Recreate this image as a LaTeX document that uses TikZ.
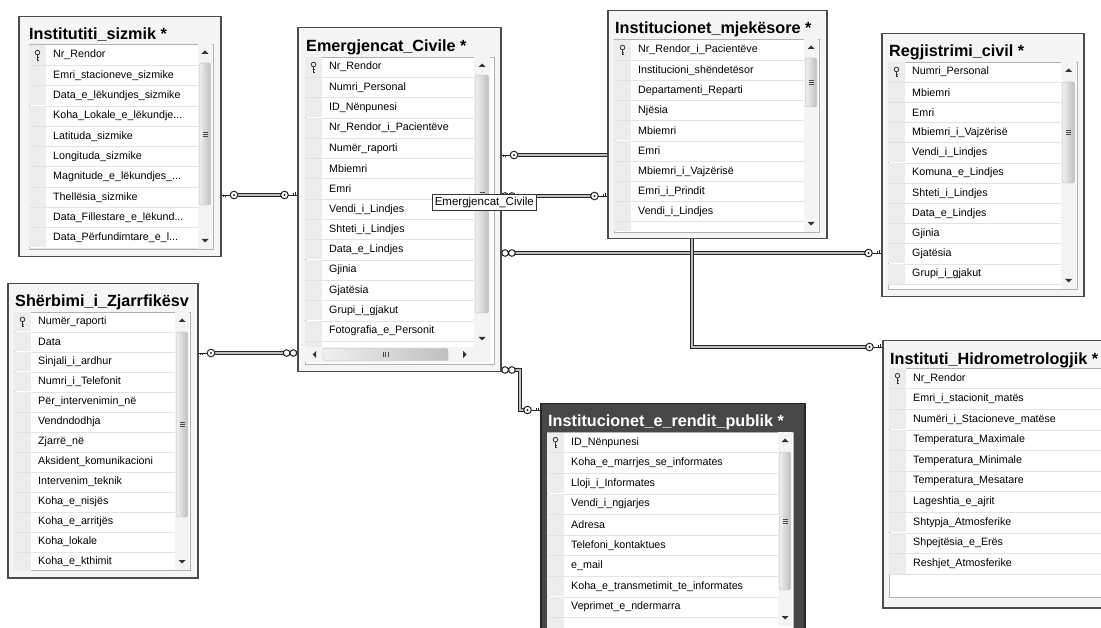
\documentclass[tikz,border=0pt]{standalone}
\usepackage{fontspec}
\setmainfont{Liberation Sans}

\newcommand{\cutoff}{...}

\tikzset{
  tframe/.style={draw=gray!60!black, line width=1.5pt, fill=gray!8, inner sep=0pt, anchor=north west},
  tframedark/.style={tframe, draw=black!85, fill=black!72},
  ttitle/.style={font=\bfseries\fontsize{16.2}{18}\selectfont, anchor=base west, inner sep=0pt, text=black},
  gridbox/.style={draw=gray!60, fill=white, line width=0.7pt},
  keycol/.style={fill=gray!14},
  rowline/.style={draw=gray!22, line width=0.6pt},
  field/.style={font=\fontsize{10.7}{12}\selectfont, anchor=west, inner sep=0pt, text=black},
  pkey/.style={draw=black!80, line width=0.8pt},
  track/.style={fill=gray!9},
  thumb/.style={draw=gray!55, rounded corners=2pt, left color=gray!12, right color=gray!50},
  arrowtip/.style={fill=black!80},
  rel/.style={draw=black!85, line width=0.9pt, double=gray!50, double distance=1.6pt},
  keyend/.pic={
    \draw[black!85, line width=0.9pt] (0,0) -- (9,0) (1.5,0) -- (1.5,2.5) (4,0) -- (4,2);
    \draw[black!85, line width=1pt, fill=white] (12.5,0) circle (3.8);
    \fill[black!85] (12.5,0) circle (1.1);
  },
  manyend/.pic={
    \draw[black!85, line width=1pt, fill=white] (3.6,0) circle (3.3) (10.4,0) circle (3.3);
  },
  tooltip/.style={draw=black!80, fill=white, line width=0.6pt, font=\fontsize{11.5}{13}\selectfont, inner sep=2.5pt, anchor=north west},
}

% rows of a table: name, grid left, first row top, scrollbar left, row height, fields
\newcommand{\dbrows}[6]{%
  \foreach \fname [count=\i] in {#6} {
    \pgfmathsetmacro{\rtop}{#3+(\i-1)*#5}
    \pgfmathsetmacro{\rbot}{\rtop+#5}
    \fill[keycol] (#2,\rtop+0.5) rectangle (#2+17,\rbot-0.5);
    \draw[rowline] (#2,\rbot) -- (#4,\rbot);
    \node[field] (#1-\i) at (#2+24,\rtop+#5/2) {\fname};
  }
  \pgfmathsetmacro{\kx}{#2+8.5}
  \pgfmathsetmacro{\ky}{#3+#5/2}
  \draw[pkey] (\kx,\ky-2.6) circle (2.3);
  \draw[pkey] (\kx,\ky-0.3) -- (\kx,\ky+4.8) -- (\kx+1.8,\ky+4.8) (\kx,\ky+2.6) -- (\kx+1.6,\ky+2.6);
}

% vertical scrollbar: left, top, right, bottom, thumb top, thumb bottom
\newcommand{\vscroll}[6]{%
  \fill[track] (#1,#2) rectangle (#3,#4);
  \shade[thumb] (#1+1.5,#5) rectangle (#3-1.5,#6);
  \pgfmathsetmacro{\mx}{(#1+#3)/2}
  \pgfmathsetmacro{\gy}{(#5+#6)/2}
  \fill[arrowtip] (\mx-3.5,#2+10) -- (\mx+3.5,#2+10) -- (\mx,#2+6.5) -- cycle;
  \fill[arrowtip] (\mx-3.5,#4-10) -- (\mx+3.5,#4-10) -- (\mx,#4-6.5) -- cycle;
  \draw[gray!60!black, line width=0.5pt] (\mx-2.5,\gy-2) -- (\mx+2.5,\gy-2) (\mx-2.5,\gy) -- (\mx+2.5,\gy) (\mx-2.5,\gy+2) -- (\mx+2.5,\gy+2);
}

\begin{document}
\catcode`\_=12
\begin{tikzpicture}[x=1pt, y=-1pt]
\useasboundingbox (0,0) rectangle (1101,628);
\fill[white] (0,0) rectangle (1101,628);
\clip (0,0) rectangle (1101,628);

% Institutiti_sizmik
\node[tframe, minimum width=202pt, minimum height=240pt] (sizmik) at (18,16) {};
\node[ttitle] (sizmik-title) at (29,39.5) {Institutiti_sizmik *};
\draw[gridbox] (29,44) rectangle (213,249);
\dbrows{sizmik}{29}{45}{198}{20.3}{Nr_Rendor, Emri_stacioneve_sizmike, Data_e_lëkundjes_sizmike, Koha_Lokale_e_lëkundje\cutoff, Latituda_sizmike, Longituda_sizmike, Magnitude_e_lëkundjes_\cutoff, Thellësia_sizmike, Data_Fillestare_e_lëkund\cutoff, Data_Përfundimtare_e_l\cutoff}
\vscroll{198}{44}{212}{249}{63}{205}

% Emergjencat_Civile
\node[tframe, minimum width=203pt, minimum height=344pt] (emerg) at (297,27) {};
\node[ttitle] (emerg-title) at (306,51.5) {Emergjencat_Civile *};
\draw[gridbox] (305,57) rectangle (494,364);
\dbrows{emerg}{305}{57}{474}{20.3}{Nr_Rendor, Numri_Personal, ID_Nënpunesi, Nr_Rendor_i_Pacientëve, Numër_raporti, Mbiemri, Emri, Vendi_i_Lindjes, Shteti_i_Lindjes, Data_e_Lindjes, Gjinia, Gjatësia, Grupi_i_gjakut, Fotografia_e_Personit}
\fill[keycol] (305,342) rectangle (322,347);
\vscroll{474}{57}{490}{347}{75}{313}
\fill[track] (305,347) rectangle (490,362);
\shade[thumb] (323,348.5) rectangle (448,360.5);
\fill[arrowtip] (316,351) -- (316,358) -- (312.5,354.5) -- cycle;
\fill[arrowtip] (463,351) -- (463,358) -- (466.5,354.5) -- cycle;
\draw[gray!60!black, line width=0.5pt] (383,352) -- (383,357) (385.5,352) -- (385.5,357) (388,352) -- (388,357);

% Institucionet_mjekesore
\node[tframe, minimum width=219pt, minimum height=228pt] (mjek) at (607,10) {};
\node[ttitle] (mjek-title) at (615,33.5) {Institucionet_mjekësore *};
\draw[gridbox] (614,39) rectangle (819,232);
\dbrows{mjek}{614}{40}{804}{20.2}{Nr_Rendor_i_Pacientëve, Institucioni_shëndetësor, Departamenti_Reparti, Njësia, Mbiemri, Emri, Mbiemri_i_Vajzërisë, Emri_i_Prindit, Vendi_i_Lindjes}
\fill[keycol] (614,222.5) rectangle (631,231);
\vscroll{804}{39}{818}{232}{58}{107}

% Regjistrimi_civil
\node[tframe, minimum width=202pt, minimum height=263pt] (regj) at (881,33) {};
\node[ttitle] (regj-title) at (889,57) {Regjistrimi_civil *};
\draw[gridbox] (888,62) rectangle (1077,289);
\dbrows{regj}{888}{62}{1061}{20.2}{Numri_Personal, Mbiemri, Emri, Mbiemri_i_Vajzërisë, Vendi_i_Lindjes, Komuna_e_Lindjes, Shteti_i_Lindjes, Data_e_Lindjes, Gjinia, Gjatësia, Grupi_i_gjakut}
\vscroll{1061}{62}{1076}{289}{82}{183}

% Sherbimi_i_Zjarrfikesve
\node[tframe, minimum width=190pt, minimum height=294pt] (sherb) at (7,283) {};
\begin{scope}
\clip (8,284) rectangle (196,576);
\node[ttitle] (sherb-title) at (15,307) {Shërbimi_i_Zjarrfikësv};
\end{scope}
\draw[gridbox] (14,312) rectangle (190,570);
\begin{scope}
\clip (14,312) rectangle (190,570);
\dbrows{sherb}{14}{312}{175}{20}{Numër_raporti, Data, Sinjali_i_ardhur, Numri_i_Telefonit, Për_intervenimin_në, Vendndodhja, Zjarrë_në, Aksident_komunikacioni, Intervenim_teknik, Koha_e_nisjës, Koha_e_arritjës, Koha_lokale, Koha_e_kthimit}
\end{scope}
\vscroll{175}{312}{189}{570}{332}{517}

% Institucionet_e_rendit_publik
\node[tframedark, minimum width=264pt, minimum height=240pt] (rendit) at (540,403) {};
\node[ttitle, text=white] (rendit-title) at (548,427) {Institucionet_e_rendit_publik *};
\draw[gridbox] (547,432) rectangle (793,640);
\dbrows{rendit}{547}{432}{778}{20.6}{ID_Nënpunesi, Koha_e_marrjes_se_informates, Lloji_i_Informates, Vendi_i_ngjarjes, Adresa, Telefoni_kontaktues, e_mail, Koha_e_transmetimit_te_informates, Veprimet_e_ndermarra}
\fill[keycol] (547,618) rectangle (564,628);
\vscroll{778}{432}{792}{626}{452}{590}

% Instituti_Hidrometrologjik
\node[tframe, minimum width=240pt, minimum height=267pt] (hidro) at (882,340) {};
\node[ttitle] (hidro-title) at (890,364.5) {Instituti_Hidrometrologjik *};
\draw[gridbox] (889,368) rectangle (1115,597);
\dbrows{hidro}{889}{368}{1115}{20.6}{Nr_Rendor, Emri_i_stacionit_matës, Numëri_i_Stacioneve_matëse, Temperatura_Maximale, Temperatura_Minimale, Temperatura_Mesatare, Lageshtia_e_ajrit, Shtypja_Atmosferike, Shpejtësia_e_Erës, Reshjet_Atmosferike}

% relationships
\coordinate (bend7) at (520,0);
\draw[rel, shorten <=16pt, shorten >=16pt] (sizmik.east |- 0,195) -- (emerg.west |- 0,195);
\draw[rel, shorten <=16pt] (sherb.east |- 0,353) -- (emerg.west |- 0,353);
\draw[rel, shorten <=16pt] (emerg.east |- 0,155) -- (mjek.west |- 0,155);
\draw[rel, shorten >=16pt] (emerg.east |- 0,196) -- (mjek.west |- 0,196);
\draw[rel, shorten >=16pt] (emerg.east |- 0,253) -- (regj.west |- 0,253);
\draw[rel, shorten >=16pt] (mjek.south -| 692,0) |- (hidro.west |- 0,347);
\draw[rel, shorten >=16pt] (emerg.east |- 0,370) -| (bend7 |- 0,410) -- (rendit.west |- 0,410);

\pic at (sizmik.east |- 0,195) {keyend};
\pic[rotate=180] at (emerg.west |- 0,195) {keyend};
\pic at (sherb.east |- 0,353) {keyend};
\pic[rotate=180] at (emerg.west |- 0,353) {manyend};
\pic at (emerg.east |- 0,155) {keyend};
\pic at (emerg.east |- 0,196) {manyend};
\pic[rotate=180] at (mjek.west |- 0,196) {keyend};
\pic at (emerg.east |- 0,253) {manyend};
\pic[rotate=180] at (regj.west |- 0,253) {keyend};
\pic[rotate=180] at (hidro.west |- 0,347) {keyend};
\pic at (emerg.east |- 0,370) {manyend};
\pic[rotate=180] at (rendit.west |- 0,410) {keyend};

\node[tooltip] (tip) at (432,194) {Emergjencat_Civile};

\end{tikzpicture}
\end{document}
